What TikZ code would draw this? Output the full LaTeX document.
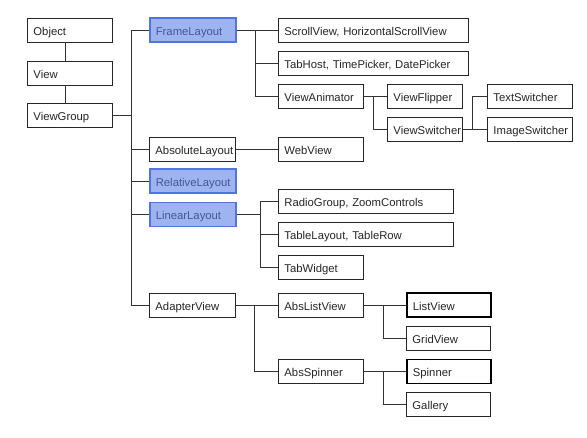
\documentclass[tikz,border=0pt]{standalone}
\usepackage{fontspec}
\setmainfont{Liberation Sans}
\newcommand{\lblfont}{\fontsize{11.3}{13.5}\selectfont\hyphenpenalty=10000\relax\hbadness=10000\relax}
\begin{document}
\begin{tikzpicture}[x=1pt,y=-1pt,
  cls/.style={draw=black!85, line width=0.9pt, fill=white, anchor=west,
    minimum height=24pt, inner xsep=6pt, inner ysep=0pt, align=left,
    font=\lblfont, text height=11.5pt, text depth=1.3pt, text=black!85},
  blue/.style={cls, fill={rgb,255:red,158;green,180;blue,240}, draw={rgb,255:red,80;green,118;blue,222},
    line width=1.6pt, text={rgb,255:red,70;green,86;blue,150}},
  thick box/.style={cls, line width=1.8pt, draw=black},
  tw/.style={text width=#1},
  link/.style={draw=black!80, line width=0.9pt}
]
\useasboundingbox (0,0) rectangle (587,438);
\fill[white] (0,0) rectangle (587,438);

% left column
\node[cls, tw=73pt] (obj) at (27,30) {Object};
\node[cls, tw=73pt] (view) at (27,73) {View};
\node[cls, tw=73pt] (vg) at (27,115.5) {ViewGroup};

% second column
\node[blue, tw=74pt] (frame) at (149,30) {FrameLayout};
\node[cls, tw=74pt] (absl) at (149,149) {AbsoluteLayout};
\node[blue, tw=74pt] (rel) at (149,181) {RelativeLayout};
\node[blue, tw=74pt] (lin) at (149,214.5) {LinearLayout};
\node[cls, tw=74pt] (adv) at (149,305) {AdapterView};

% third column
\node[cls, tw=178pt] (scroll) at (278,30) {ScrollView, HorizontalScrollView};
\node[cls, tw=178pt] (tabhost) at (278,63.5) {TabHost, TimePicker, DatePicker};
\node[cls, tw=73pt] (vanim) at (278,96.5) {ViewAnimator};
\node[cls, tw=73pt] (web) at (278,149) {WebView};
\node[cls, tw=163pt] (radio) at (278,201) {RadioGroup, ZoomControls};
\node[cls, tw=163pt] (table) at (278,234) {TableLayout, TableRow};
\node[cls, tw=73pt] (tabw) at (278,267.5) {TabWidget};
\node[cls, tw=73pt] (alv) at (278,305) {AbsListView};
\node[cls, tw=73pt] (asp) at (278,371.5) {AbsSpinner};

% fourth column
\node[cls, tw=63pt] (flip) at (387,96.5) {ViewFlipper};
\node[cls, tw=63pt] (vsw) at (387,129) {ViewSwitcher};
\node[thick box, tw=72pt] (list) at (406,305) {ListView};
\node[cls, tw=72pt] (grid) at (406,338) {GridView};
\node[thick box, tw=72pt] (spin) at (406,371.5) {Spinner};
\node[cls, tw=72pt] (gal) at (406,404.5) {Gallery};

% fifth column
\node[cls, tw=73pt] (tsw) at (487,96.5) {TextSwitcher};
\node[cls, tw=73pt] (isw) at (487,129) {ImageSwitcher};

% trunk coordinates
\coordinate (t1) at (131,0);
\coordinate (t2) at (255,0);
\coordinate (t3) at (373,0);
\coordinate (t4) at (472,0);
\coordinate (t5) at (260,0);
\coordinate (t6) at (254,0);
\coordinate (t7) at (383,0);

% Object - View - ViewGroup
\draw[link] ([xshift=-4.5pt]obj.south) -- ([xshift=-4.5pt]view.north);
\draw[link] ([xshift=-4.5pt]view.south) -- ([xshift=-4.5pt]vg.north);

% ViewGroup trunk
\draw[link] (vg.east) -- (vg.east -| t1);
\draw[link] (frame.west) -- (frame.west -| t1) -- (adv.west -| t1) -- (adv.west);
\draw[link] (absl.west) -- (absl.west -| t1);
\draw[link] (rel.west) -- (rel.west -| t1);
\draw[link] (lin.west) -- (lin.west -| t1);

% FrameLayout children
\draw[link] (frame.east) -- (scroll.west);
\draw[link] (scroll.west -| t2) -- (vanim.west -| t2) -- (vanim.west);
\draw[link] (tabhost.west) -- (tabhost.west -| t2);

% ViewAnimator children
\draw[link] (vanim.east) -- (flip.west);
\draw[link] (flip.west -| t3) -- (vsw.west -| t3) -- (vsw.west);

% ViewSwitcher children
\draw[link] (vsw.east) -- (isw.west);
\draw[link] (isw.west -| t4) -- (tsw.west -| t4) -- (tsw.west);

% AbsoluteLayout
\draw[link] (absl.east) -- (web.west);

% LinearLayout children
\draw[link] (lin.east) -- (lin.east -| t5);
\draw[link] (radio.west) -- (radio.west -| t5) -- (tabw.west -| t5) -- (tabw.west);
\draw[link] (table.west) -- (table.west -| t5);

% AdapterView children
\draw[link] (adv.east) -- (alv.west);
\draw[link] (alv.west -| t6) -- (asp.west -| t6) -- (asp.west);

% AbsListView children
\draw[link] (alv.east) -- (list.west);
\draw[link] (list.west -| t7) -- (grid.west -| t7) -- (grid.west);

% AbsSpinner children
\draw[link] (asp.east) -- (spin.west);
\draw[link] (spin.west -| t7) -- (gal.west -| t7) -- (gal.west);
\end{tikzpicture}
\end{document}
